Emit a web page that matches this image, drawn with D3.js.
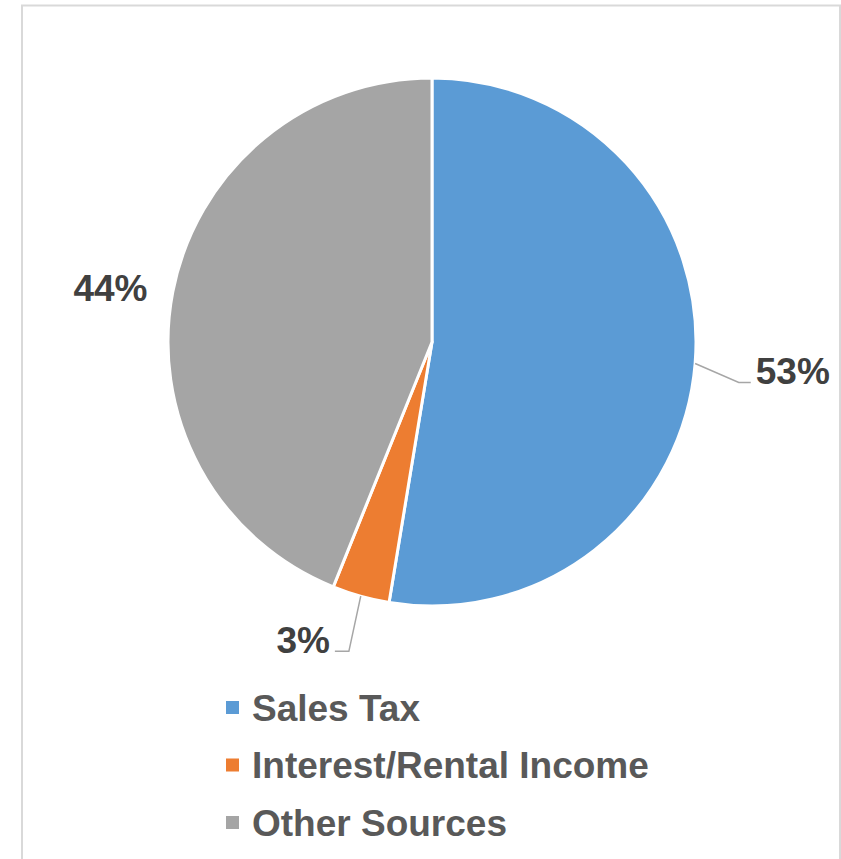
<!DOCTYPE html>
<html>
<head>
<meta charset="utf-8">
<script src="https://cdn.jsdelivr.net/npm/d3@7"></script>
<style>
  html, body { margin: 0; padding: 0; background: #fff; }
  svg { display: block; font-family: "Liberation Sans", Arial, sans-serif; }
</style>
</head>
<body>
<div id="chartContainer"></div>
<script>
// data
const categories = ["Sales Tax", "Interest/Rental Income", "Other Sources"];
const shares = [52.6, 3.5, 43.9];
const labels = ["53%", "3%", "44%"];
const colors = ["#5b9bd5", "#ed7d31", "#a5a5a5"];

// label placement (polar, around the pie) - layout only
const labelPlace = [
    { r: 362, shift: 0, leader: true, side: "right" },
    { r: 325, shift: 7.7, leader: true, side: "left" },
    { r: 326, shift: -1.5, leader: false }
];

const W = 841, H = 859;
const cx = 432, cy = 342, radius = 264;

const svg = d3.select("#chartContainer").append("svg")
    .attr("width", W)
    .attr("height", H);

// chart frame
svg.append("rect")
    .attr("x", 22).attr("y", 5.5)
    .attr("width", 818).attr("height", 900)
    .attr("fill", "none")
    .attr("stroke", "#d9d9d9")
    .attr("stroke-width", 2);

const pie = d3.pie().sort(null).value(d => d);
const arcs = pie(shares);
const arc = d3.arc().innerRadius(0).outerRadius(radius);

const g = svg.append("g").attr("transform", `translate(${cx}, ${cy})`);

g.selectAll("path.slice")
    .data(arcs)
    .enter()
    .append("path")
    .attr("class", "slice")
    .attr("d", arc)
    .attr("fill", (d, i) => colors[i])
    .attr("stroke", "#fff")
    .attr("stroke-width", 3)
    .attr("stroke-linejoin", "round");

const polar = (a, r) => [Math.sin(a) * r, -Math.cos(a) * r];
const deg = Math.PI / 180;

arcs.forEach((d, i) => {
    const p = labelPlace[i];
    const mid = (d.startAngle + d.endAngle) / 2;
    const [lx, ly] = polar(mid + p.shift * deg, p.r);

    const txt = g.append("text")
        .attr("x", lx)
        .attr("y", ly)
        .attr("text-anchor", "middle")
        .attr("dominant-baseline", "central")
        .attr("font-size", 37)
        .attr("font-weight", "bold")
        .attr("fill", "#404040")
        .text(labels[i]);

    if (p.leader) {
        const bb = txt.node().getBBox();
        const start = polar(mid, radius);
        const yL = ly + 11;
        let xEnd, xElbow;
        if (p.side === "right") {
            xEnd = bb.x - 5;
            xElbow = xEnd - 12;
        } else {
            xEnd = bb.x + bb.width + 5;
            xElbow = xEnd + 14;
        }
        g.append("polyline")
            .attr("points", [start, [xElbow, yL], [xEnd, yL]].map(q => q.join(",")).join(" "))
            .attr("fill", "none")
            .attr("stroke", "#a6a6a6")
            .attr("stroke-width", 1.5);
    }
});

// legend
const legend = svg.append("g").attr("transform", "translate(226, 708)");
const row = legend.selectAll("g")
    .data(categories)
    .enter()
    .append("g")
    .attr("transform", (d, i) => `translate(0, ${i * 57.5})`);

row.append("rect")
    .attr("x", 0).attr("y", -7)
    .attr("width", 13).attr("height", 13)
    .attr("fill", (d, i) => colors[i]);

row.append("text")
    .attr("x", 26)
    .attr("y", 0)
    .attr("dominant-baseline", "central")
    .attr("font-size", 37)
    .attr("font-weight", "bold")
    .attr("fill", "#595959")
    .text(d => d);
</script>
</body>
</html>
